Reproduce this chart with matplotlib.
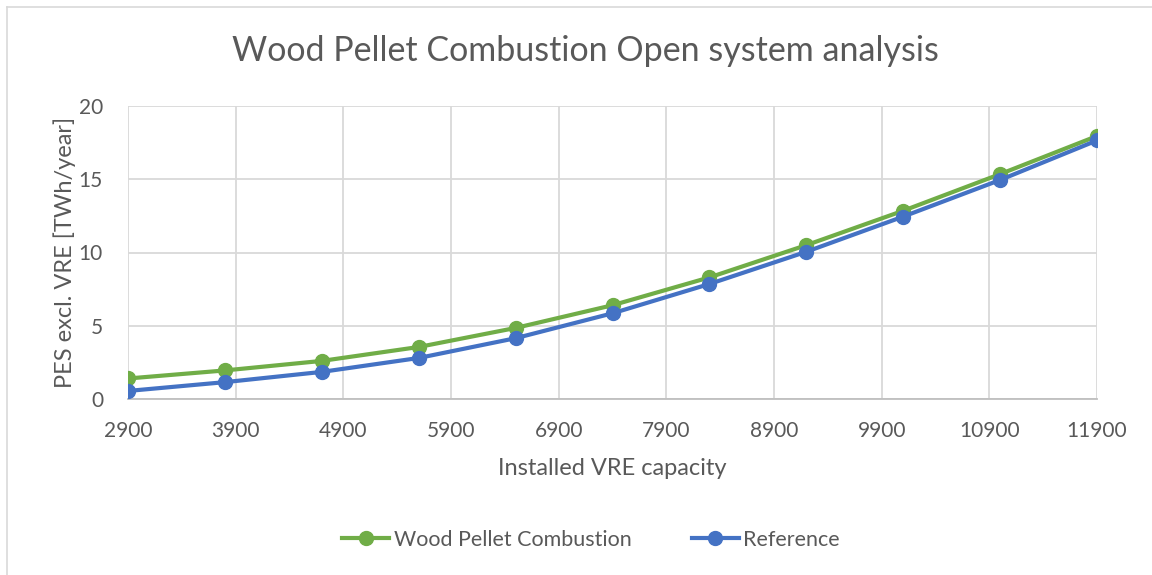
import matplotlib
matplotlib.use('Agg')
import matplotlib.pyplot as plt
from matplotlib.lines import Line2D

plt.rcParams['font.family'] = ['Lato', 'DejaVu Sans']

capacity = [2900, 3800, 4700, 5600, 6500, 7400, 8300, 9200, 10100, 11000, 11900]
wood_pellet = [1.4, 1.95, 2.6, 3.55, 4.85, 6.4, 8.3, 10.5, 12.85, 15.35, 17.95]
reference = [0.55, 1.15, 1.85, 2.8, 4.15, 5.85, 7.85, 10.05, 12.45, 14.95, 17.65]
x_ticks = list(range(2900, 11901, 1000))
y_ticks = [0, 5, 10, 15, 20]

green = '#70AD47'
blue = '#4472C4'
txt = '#595959'

fig = plt.figure(figsize=(11.52, 5.75), dpi=100)
ax = fig.add_axes([128/1152, 1 - 399/575, (1097 - 128)/1152, (399 - 106)/575])

ax.plot(capacity, wood_pellet, color=green, lw=3, marker='o', ms=10, label='Wood Pellet Combustion', zorder=3)
ax.plot(capacity, reference, color=blue, lw=3, marker='o', ms=10, label='Reference', zorder=4)

ax.set_xlim(2900, 11900)
ax.set_ylim(0, 20)
ax.set_xticks(x_ticks)
ax.set_yticks(y_ticks)
ax.grid(True, color='#D9D9D9', lw=1.3)
ax.set_axisbelow(True)
for s in ['top', 'right', 'left']:
    ax.spines[s].set_visible(False)
ax.spines['bottom'].set_color('#BFBFBF')
ax.spines['bottom'].set_linewidth(1.3)
ax.tick_params(length=0, labelsize=15, colors=txt)
ax.tick_params(axis='x', pad=16)
ax.tick_params(axis='y', pad=18)

ax.set_xlabel('Installed VRE capacity', fontsize=17, color=txt, labelpad=12)
ax.set_ylabel('PES excl. VRE [TWh/year]', fontsize=17, color=txt, labelpad=2)
fig.text(0.508, 1 - 51/575, 'Wood Pellet Combustion Open system analysis', fontsize=24.5,
         color=txt, ha='center', va='center')

handles = [Line2D([], [], color=green, lw=3, marker='o', ms=10),
           Line2D([], [], color=blue, lw=3, marker='o', ms=10)]
fig.legend(handles, ['Wood Pellet Combustion', 'Reference'], loc='center',
           bbox_to_anchor=(0.513, 1 - 540/575), ncol=2, frameon=False,
           fontsize=15.5, labelcolor=txt, handlelength=2.2, handletextpad=0.2,
           columnspacing=2.8)

# chart frame
fig.add_artist(Line2D([7/1152, 1], [1 - 7/575, 1 - 7/575], color='#D9D9D9', lw=1.2))
fig.add_artist(Line2D([7/1152, 7/1152], [0, 1 - 7/575], color='#D9D9D9', lw=1.2))

fig.savefig('out.png', dpi=100)
